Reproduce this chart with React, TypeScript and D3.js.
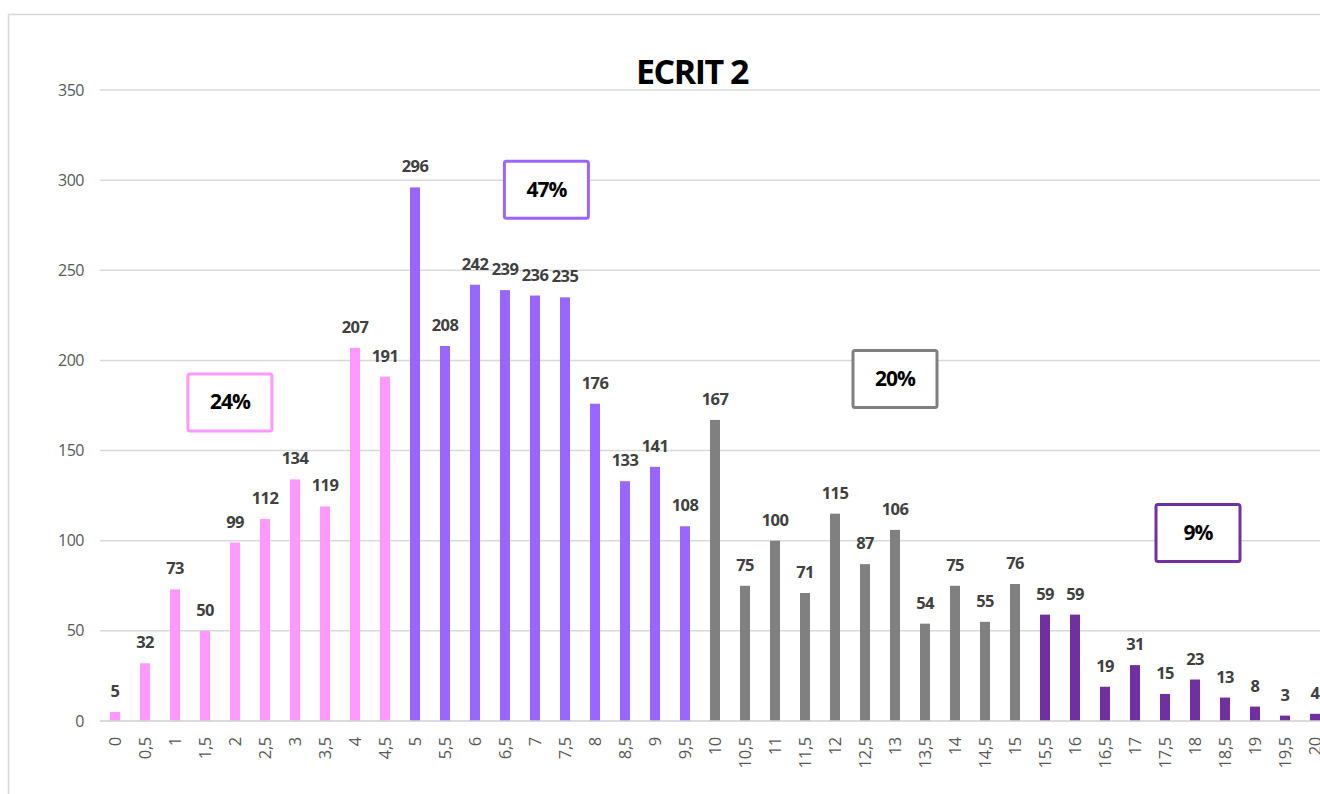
import React from "react";
import * as d3 from "d3";

const categories: string[] = [
  "0","0,5","1","1,5","2","2,5","3","3,5","4","4,5",
  "5","5,5","6","6,5","7","7,5","8","8,5","9","9,5",
  "10","10,5","11","11,5","12","12,5","13","13,5","14","14,5","15",
  "15,5","16","16,5","17","17,5","18","18,5","19","19,5","20",
];
const counts: number[] = [
  5, 32, 73, 50, 99, 112, 134, 119, 207, 191,
  296, 208, 242, 239, 236, 235, 176, 133, 141, 108,
  167, 75, 100, 71, 115, 87, 106, 54, 75, 55, 76,
  59, 59, 19, 31, 15, 23, 13, 8, 3, 4,
];
// group index per bar: 0 pink, 1 purple, 2 grey, 3 dark purple
const groupSizes: number[] = [10, 10, 11, 10];
const groupColors: string[] = ["#FF99FF", "#9966FF", "#808080", "#7030A0"];
const groupShares: string[] = ["24%", "47%", "20%", "9%"];
// annotation anchor: fractional category index and value
const shareAnchorIdx: number[] = [3.83, 14.38, 26, 36.1];
const shareAnchorVal: number[] = [177, 295, 190, 104.5];
const yTicks: number[] = [0, 50, 100, 150, 200, 250, 300, 350];

const FONT = "'Open Sans', 'Noto Sans', sans-serif";

export default function App() {
  const W = 1320, H = 794;
  const left = 100, bandStep = 30;
  const x = d3
    .scaleBand<string>()
    .domain(categories)
    .range([left, left + bandStep * categories.length])
    .paddingInner(0.667)
    .paddingOuter(0.333);
  const y = d3.scaleLinear().domain([0, 350]).range([721, 90]);
  const groupOf: number[] = [];
  groupSizes.forEach((n, g) => {
    for (let i = 0; i < n; i++) groupOf.push(g);
  });
  const centerAt = (fi: number) => left + bandStep * (fi + 0.5);
  const bw = x.bandwidth();

  return (
    <svg
      width={W}
      height={H}
      style={{ position: "absolute", left: 0, top: 0, background: "#fff" }}
    >
      <rect x={8.5} y={14.5} width={1400} height={900} fill="#fff" stroke="#d9d9d9" strokeWidth={1.5} />
      <text
        x={692}
        y={84}
        textAnchor="middle"
        fontFamily={FONT}
        fontWeight={700}
        fontSize={34}
        fill="#000"
        style={{ letterSpacing: "-1.5px" }}
      >
        ECRIT 2
      </text>
      {yTicks.map((t) => (
        <g key={t}>
          <line x1={left} x2={W} y1={y(t)} y2={y(t)} stroke="#d9d9d9" strokeWidth={1.5} />
          <text
            x={84}
            y={y(t)}
            dy="0.35em"
            textAnchor="end"
            fontFamily={FONT}
            fontSize={16}
            fill="#595959"
            style={{ letterSpacing: "-0.5px" }}
          >
            {t}
          </text>
        </g>
      ))}
      {counts.map((v, i) => {
        const cx = (x(categories[i]) as number) + bw / 2;
        return (
          <g key={i}>
            <rect
              x={cx - 5}
              y={y(v)}
              width={10}
              height={y(0) - y(v)}
              fill={groupColors[groupOf[i]]}
            />
            <text
              x={cx}
              y={y(v) - 15}
              textAnchor="middle"
              fontFamily={FONT}
              fontWeight={700}
              fontSize={16.5}
              fill="#404040"
              style={{ letterSpacing: "-0.6px" }}
            >
              {v}
            </text>
            <text
              transform={`translate(${cx},${737}) rotate(-90)`}
              dy="0.35em"
              textAnchor="end"
              fontFamily={FONT}
              fontSize={16.5}
              fill="#595959"
              style={{ letterSpacing: "-0.3px" }}
            >
              {categories[i]}
            </text>
          </g>
        );
      })}
      <line x1={left} x2={W} y1={y(0)} y2={y(0)} stroke="#d9d9d9" strokeWidth={1.5} />
      {groupShares.map((s, g) => {
        const cx = centerAt(shareAnchorIdx[g]);
        const cy = y(shareAnchorVal[g]);
        return (
          <g key={s}>
            <rect
              x={cx - 42}
              y={cy - 28}
              width={84}
              height={57}
              rx={2}
              fill="#fff"
              stroke={groupColors[g]}
              strokeWidth={3}
            />
            <text
              x={cx}
              y={cy}
              dy="0.35em"
              textAnchor="middle"
              fontFamily={FONT}
              fontWeight={700}
              fontSize={21}
              fill="#000"
              style={{ letterSpacing: "-1px" }}
            >
              {s}
            </text>
          </g>
        );
      })}
    </svg>
  );
}
